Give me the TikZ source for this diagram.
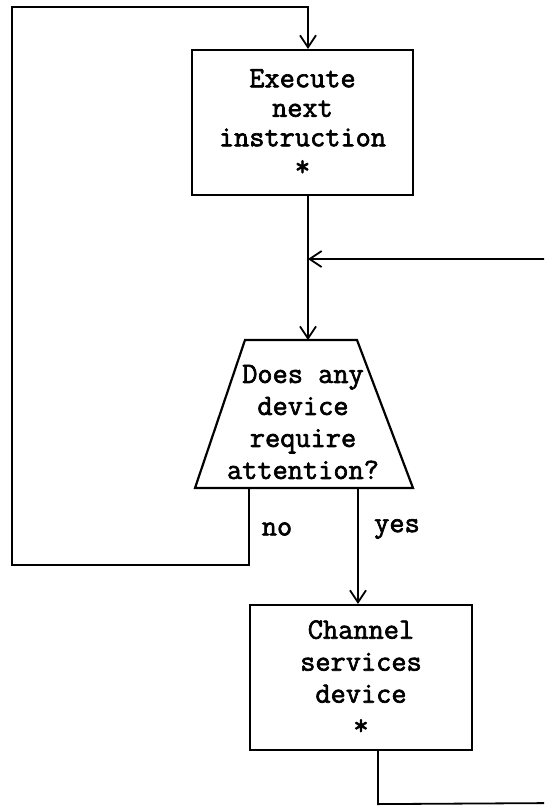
\documentclass[tikz,border=0pt]{standalone}
\usepackage{fontspec}
\setmonofont{Latin Modern Mono}[FakeBold=2.2]
\usetikzlibrary{arrows.meta}
\begin{document}
\begin{tikzpicture}[x=1pt,y=-1pt,
  txt/.style={font=\fontsize{29.5}{32}\selectfont\ttfamily, align=center, inner sep=0pt},
  boxnode/.style={draw, line width=2.2pt, inner sep=0pt, minimum width=221pt, minimum height=145pt, txt},
  conn/.style={line width=1.8pt},
  arr/.style={conn, -{Straight Barb[length=12pt,width=16pt,line width=1.8pt]}}
]
\useasboundingbox (0,0) rectangle (544,809);
\fill[white] (0,0) rectangle (544,809);

% boxes
\node[boxnode, font=\fontsize{29.5}{29.5}\selectfont\ttfamily] (box1) at (302.5,122.5) {Execute\\next\\instruction\\*};
\node[boxnode, minimum width=222pt, font=\fontsize{29.5}{32}\selectfont\ttfamily] (box2) at (361,677.5) {Channel\\services\\device\\*};

% decision trapezium
\coordinate (tl) at (245,340);
\coordinate (tr) at (357,340);
\coordinate (br) at (413,488);
\coordinate (bl) at (195,488);
\draw[line width=2.2pt, line join=miter] (tl) -- (tr) -- (br) -- (bl) -- cycle;
\node[txt] (dec) at (303,422) {Does any\\device\\require\\attention?};
\coordinate (decIn) at (308,340);
\coordinate (decNo) at (249,488);
\coordinate (decYes) at (358,488);
\coordinate (join) at (308,259);

% connectors
\draw[arr] (decNo) -- (249,565) -- (12,565) -- (12,7) -- (308,7) -- (box1.north -| decIn);
\draw[arr] (box1.south -| decIn) -- (decIn);
\draw[arr] (decYes) -- (decYes |- box2.north);
\begin{scope}
\clip (0,0) rectangle (544,809);
\draw[arr] ([xshift=17pt]box2.south) -- ++(0,53) -- (560,803) -- (560,259) -- (join);
\end{scope}

% labels
\node[txt] (lno) at (277,529) {no};
\node[txt] (lyes) at (397,529) {yes};
\end{tikzpicture}
\end{document}
